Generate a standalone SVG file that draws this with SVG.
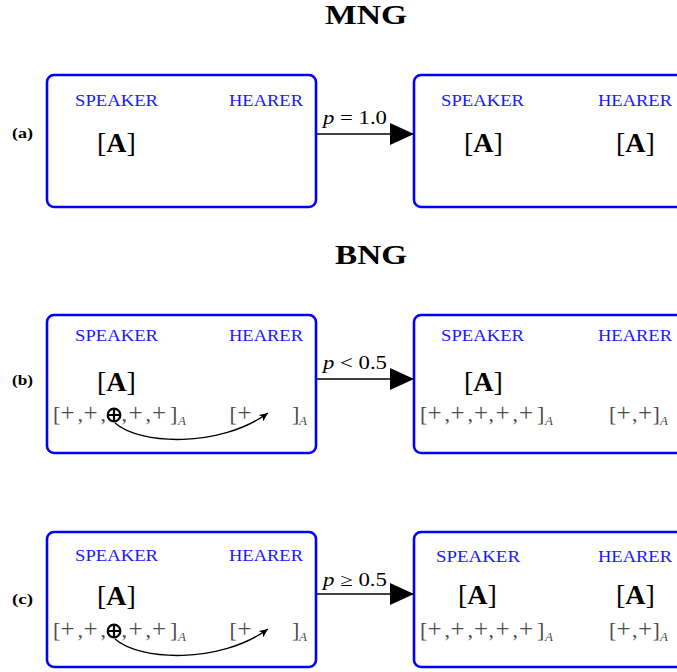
<svg xmlns="http://www.w3.org/2000/svg" width="677" height="672" viewBox="0 0 677 672">
<style>
.box{fill:none;stroke:#0000ff;stroke-width:2.6}
.role{font-family:"Liberation Serif",serif;font-size:17.5px;fill:#1a1aff}
.big{font-family:"Liberation Serif",serif;font-size:28px;fill:#000}
.bold{font-weight:bold}
.seq{font-family:"Liberation Serif",serif;font-size:22px;fill:#4d4d4d}
.pl{font-size:25px}
.sub{font-family:"Liberation Serif",serif;font-size:13px;font-style:italic;fill:#4d4d4d}
.lbl{font-family:"Liberation Serif",serif;font-size:18px;fill:#000}
.row{font-family:"Liberation Serif",serif;font-size:15px;font-weight:bold;fill:#000}
.title{font-family:"Liberation Serif",serif;font-size:27px;font-weight:bold;fill:#000}
.conn{stroke:#000;stroke-width:1.5;fill:none}
.curve{stroke:#000;stroke-width:1.4;fill:none}
.op{fill:none;stroke:#000;stroke-width:2.2}
</style>
<defs>
<marker id="big" markerUnits="userSpaceOnUse" markerWidth="24" markerHeight="22" refX="24" refY="11" orient="auto">
<path d="M0,0 L24,11 L0,22 z" fill="#000"/>
</marker>
<marker id="small" markerUnits="userSpaceOnUse" markerWidth="10" markerHeight="8" refX="9" refY="4" orient="auto">
<path d="M0,0 L9,4 L0,8 L2.5,4 z" fill="#000"/>
</marker>
</defs>

<text class="title" x="325" y="24" textLength="82" lengthAdjust="spacingAndGlyphs">MNG</text>
<text class="title" x="335" y="264" textLength="72" lengthAdjust="spacingAndGlyphs">BNG</text>

<text class="row" x="12" y="138" textLength="21" lengthAdjust="spacingAndGlyphs">(a)</text>
<text class="row" x="12" y="385" textLength="21" lengthAdjust="spacingAndGlyphs">(b)</text>
<text class="row" x="12" y="604" textLength="21" lengthAdjust="spacingAndGlyphs">(c)</text>

<!-- Row a -->
<g id="a-left">
<rect class="box" x="47" y="75" width="269" height="132" rx="7"/>
<text class="role" x="75" y="106" textLength="83" lengthAdjust="spacingAndGlyphs">SPEAKER</text>
<text class="role" x="229" y="106" textLength="74" lengthAdjust="spacingAndGlyphs">HEARER</text>
<text class="big" x="97" y="152">[<tspan class="bold">A</tspan>]</text>
</g>
<g id="a-right">
<rect class="box" x="414" y="75" width="300" height="132" rx="7"/>
<text class="role" x="441" y="106" textLength="83" lengthAdjust="spacingAndGlyphs">SPEAKER</text>
<text class="role" x="598" y="106" textLength="74" lengthAdjust="spacingAndGlyphs">HEARER</text>
<text class="big" x="464" y="152">[<tspan class="bold">A</tspan>]</text>
<text class="big" x="616" y="152">[<tspan class="bold">A</tspan>]</text>
</g>

<!-- Row b -->
<g id="b-left">
<rect class="box" x="47" y="315" width="269" height="138" rx="7"/>
<text class="role" x="75" y="341" textLength="83" lengthAdjust="spacingAndGlyphs">SPEAKER</text>
<text class="role" x="229" y="341" textLength="74" lengthAdjust="spacingAndGlyphs">HEARER</text>
<text class="big" x="97" y="391">[<tspan class="bold">A</tspan>]</text>
<text class="seq" y="421" x="53 60.5 77.5 83.5 100.5 121.5 128.5 145.5 152 170">[<tspan class="pl">+</tspan>,<tspan class="pl">+</tspan>,,<tspan class="pl">+</tspan>,<tspan class="pl">+</tspan>]</text>
<text class="sub" x="178" y="425">A</text>
<circle class="op" cx="114" cy="415" r="6.3"/>
<path class="op" d="M107.7,415 H120.3 M114,408.7 V421.3"/>
<text class="seq" y="421" x="229.5 237.5">[<tspan class="pl">+</tspan></text>
<text class="seq" x="292" y="421">]</text>
<text class="sub" x="299" y="425">A</text>
</g>
<g id="b-right">
<rect class="box" x="414" y="315" width="300" height="138" rx="7"/>
<text class="role" x="441" y="341" textLength="83" lengthAdjust="spacingAndGlyphs">SPEAKER</text>
<text class="role" x="598" y="341" textLength="74" lengthAdjust="spacingAndGlyphs">HEARER</text>
<text class="big" x="464" y="391">[<tspan class="bold">A</tspan>]</text>
<text class="seq" y="421" x="420 427.5 444.5 450.5 467.5 474 488.5 495.5 512.5 519 537">[<tspan class="pl">+</tspan>,<tspan class="pl">+</tspan>,<tspan class="pl">+</tspan>,<tspan class="pl">+</tspan>,<tspan class="pl">+</tspan>]</text>
<text class="sub" x="545" y="425">A</text>
<text class="seq" y="421" x="609 616.5 632 638 652.5">[<tspan class="pl">+</tspan>,<tspan class="pl">+</tspan>]</text>
<text class="sub" x="660" y="425">A</text>
</g>

<!-- Row c -->
<g id="c-left">
<rect class="box" x="47" y="532" width="269" height="135" rx="7"/>
<text class="role" x="75" y="561" textLength="83" lengthAdjust="spacingAndGlyphs">SPEAKER</text>
<text class="role" x="229" y="561" textLength="74" lengthAdjust="spacingAndGlyphs">HEARER</text>
<text class="big" x="97" y="605">[<tspan class="bold">A</tspan>]</text>
<text class="seq" y="637" x="53 60.5 77.5 83.5 100.5 121.5 128.5 145.5 152 170">[<tspan class="pl">+</tspan>,<tspan class="pl">+</tspan>,,<tspan class="pl">+</tspan>,<tspan class="pl">+</tspan>]</text>
<text class="sub" x="178" y="641">A</text>
<circle class="op" cx="114" cy="631" r="6.3"/>
<path class="op" d="M107.7,631 H120.3 M114,624.7 V637.3"/>
<text class="seq" y="637" x="229.5 237.5">[<tspan class="pl">+</tspan></text>
<text class="seq" x="292" y="637">]</text>
<text class="sub" x="299" y="641">A</text>
</g>
<g id="c-right">
<rect class="box" x="414" y="532" width="300" height="135" rx="7"/>
<text class="role" x="436" y="562" textLength="84" lengthAdjust="spacingAndGlyphs">SPEAKER</text>
<text class="role" x="598" y="562" textLength="74" lengthAdjust="spacingAndGlyphs">HEARER</text>
<text class="big" x="458" y="604">[<tspan class="bold">A</tspan>]</text>
<text class="big" x="616" y="604">[<tspan class="bold">A</tspan>]</text>
<text class="seq" y="637" x="420 427.5 444.5 450.5 467.5 474 488.5 495.5 512.5 519 537">[<tspan class="pl">+</tspan>,<tspan class="pl">+</tspan>,<tspan class="pl">+</tspan>,<tspan class="pl">+</tspan>,<tspan class="pl">+</tspan>]</text>
<text class="sub" x="545" y="641">A</text>
<text class="seq" y="637" x="609 616.5 632 638 652.5">[<tspan class="pl">+</tspan>,<tspan class="pl">+</tspan>]</text>
<text class="sub" x="660" y="641">A</text>
</g>

<g id="connectors">
<line class="conn" x1="317" y1="134" x2="414" y2="134" marker-end="url(#big)"/>
<line class="conn" x1="317" y1="379" x2="414" y2="379" marker-end="url(#big)"/>
<line class="conn" x1="317" y1="594" x2="414" y2="594" marker-end="url(#big)"/>
<text class="lbl" x="323" y="124" textLength="64" lengthAdjust="spacingAndGlyphs"><tspan font-style="italic">p</tspan> = 1.0</text>
<text class="lbl" x="323" y="369" textLength="64" lengthAdjust="spacingAndGlyphs"><tspan font-style="italic">p</tspan> &lt; 0.5</text>
<text class="lbl" x="323" y="586" textLength="64" lengthAdjust="spacingAndGlyphs"><tspan font-style="italic">p</tspan> ≥ 0.5</text>
<path class="curve" d="M115,423 C140,445 220,448 268,413" marker-end="url(#small)"/>
<path class="curve" d="M115,639 C140,661 220,664 268,629" marker-end="url(#small)"/>
</g>
</svg>
